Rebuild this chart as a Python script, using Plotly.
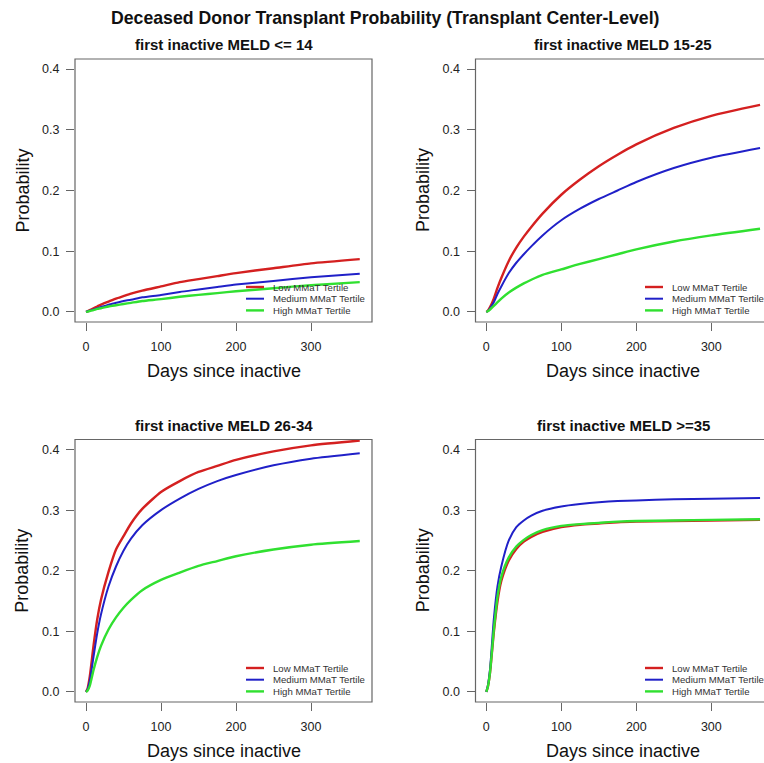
import plotly.graph_objects as go

W, H = 764, 763

# ---------------- data ----------------
days = [0, 2, 5, 10, 15, 20, 30, 40, 50, 60, 75, 100, 125, 150, 175, 200, 250, 300, 365]

series_names = ["Low MMaT Tertile", "Medium MMaT Tertile", "High MMaT Tertile"]
panel_titles = ["first inactive MELD <= 14", "first inactive MELD 15-25",
                "first inactive MELD 26-34", "first inactive MELD >=35"]

# MELD <= 14
p1_low = [0, 0.001, 0.003, 0.006, 0.009, 0.012, 0.017, 0.022, 0.026, 0.030, 0.035, 0.042, 0.049, 0.054, 0.059, 0.064, 0.072, 0.080, 0.087]
p1_med = [0, 0.001, 0.002, 0.004, 0.006, 0.008, 0.012, 0.015, 0.018, 0.020, 0.024, 0.028, 0.033, 0.037, 0.041, 0.045, 0.051, 0.057, 0.063]
p1_high = [0, 0.0005, 0.0015, 0.003, 0.005, 0.006, 0.009, 0.011, 0.013, 0.015, 0.018, 0.021, 0.025, 0.028, 0.031, 0.034, 0.039, 0.044, 0.049]
# MELD 15-25
p2_low = [0, 0.002, 0.008, 0.022, 0.040, 0.056, 0.084, 0.106, 0.124, 0.140, 0.162, 0.193, 0.218, 0.240, 0.259, 0.276, 0.303, 0.323, 0.341]
p2_med = [0, 0.001, 0.006, 0.016, 0.030, 0.042, 0.064, 0.081, 0.095, 0.108, 0.126, 0.151, 0.170, 0.186, 0.200, 0.214, 0.237, 0.254, 0.270]
p2_high = [0, 0.001, 0.004, 0.010, 0.016, 0.022, 0.032, 0.040, 0.047, 0.053, 0.061, 0.070, 0.079, 0.087, 0.095, 0.103, 0.116, 0.126, 0.137]
# MELD 26-34
p3_low = [0, 0.005, 0.025, 0.076, 0.120, 0.152, 0.198, 0.235, 0.257, 0.278, 0.302, 0.330, 0.348, 0.363, 0.373, 0.383, 0.397, 0.407, 0.415]
p3_med = [0, 0.004, 0.018, 0.058, 0.097, 0.128, 0.174, 0.207, 0.233, 0.253, 0.275, 0.300, 0.319, 0.335, 0.348, 0.358, 0.374, 0.385, 0.394]
p3_high = [0, 0.002, 0.010, 0.036, 0.058, 0.076, 0.103, 0.123, 0.139, 0.152, 0.168, 0.185, 0.197, 0.208, 0.216, 0.224, 0.235, 0.243, 0.249]
# MELD >= 35
p4_low = [0, 0.008, 0.032, 0.098, 0.150, 0.183, 0.217, 0.236, 0.248, 0.256, 0.264, 0.272, 0.276, 0.278, 0.280, 0.281, 0.282, 0.283, 0.284]
p4_med = [0, 0.010, 0.038, 0.120, 0.175, 0.207, 0.250, 0.272, 0.283, 0.291, 0.299, 0.306, 0.310, 0.313, 0.315, 0.316, 0.318, 0.319, 0.320]
p4_high = [0, 0.008, 0.033, 0.102, 0.158, 0.190, 0.222, 0.240, 0.251, 0.259, 0.267, 0.274, 0.277, 0.279, 0.281, 0.282, 0.283, 0.284, 0.285]

panels = [
    [p1_low, p1_med, p1_high],
    [p2_low, p2_med, p2_high],
    [p3_low, p3_med, p3_high],
    [p4_low, p4_med, p4_high],
]

x_ticks = [0, 100, 200, 300]
y_ticks = [0.0, 0.1, 0.2, 0.3, 0.4]
y_tick_labels = ["0.0", "0.1", "0.2", "0.3", "0.4"]

# ---------------- styling ----------------
colors = ["#d42020", "#2020c8", "#30e030"]
widths = [2.4, 2.0, 2.4]
FONT = "Liberation Sans, Arial, sans-serif"
AXC = "#666666"
TXT = "#222222"

def px(x):
    return x / W

def py(y):
    return 1 - y / H

# plot-area pixel boxes: (left, right, top, bottom)
boxes = [
    (75, 372, 59, 322),
    (475.5, 771, 59, 322),
    (75, 372, 439.5, 702),
    (475.5, 771, 439.5, 702),
]
x0_pix = [86, 486.3, 86, 486.3]
ppd = 0.75

fig = go.Figure()

for i in range(4):
    l, r, t, b = boxes[i]
    rr = min(r, W)
    ax = "" if i == 0 else str(i + 1)
    xr = [(l - x0_pix[i]) / ppd, (rr - x0_pix[i]) / ppd]
    for s in range(3):
        fig.add_trace(go.Scatter(
            x=days, y=panels[i][s], mode="lines", name=series_names[s],
            line=dict(color=colors[s], width=widths[s], shape="spline", smoothing=0.6),
            xaxis="x" + ax, yaxis="y" + ax, showlegend=False,
        ))
    fig.layout["xaxis" + ax] = dict(
        domain=[px(l), px(rr)], range=xr, anchor="y" + ax,
        tickvals=x_ticks, ticks="outside", ticklen=8, tickcolor=AXC, tickwidth=1,
        ticklabelstandoff=5,
        showgrid=False, zeroline=False, showline=False,
        tickfont=dict(family=FONT, size=12.5, color=TXT),
    )
    fig.layout["yaxis" + ax] = dict(
        domain=[py(b), py(t)], range=[-0.0166, 0.4166], anchor="x" + ax,
        tickvals=y_ticks, ticktext=y_tick_labels, ticks="outside", ticklen=8,
        tickcolor=AXC, tickwidth=1, ticklabelstandoff=4,
        showgrid=False, zeroline=False, showline=False,
        tickfont=dict(family=FONT, size=12.5, color=TXT),
    )
    fig.add_shape(type="rect", xref="paper", yref="paper",
                  x0=px(l), x1=px(r), y0=py(b), y1=py(t),
                  line=dict(color=AXC, width=1.2), fillcolor="rgba(0,0,0,0)")
    fig.add_annotation(text="<b>" + panel_titles[i] + "</b>", xref="paper", yref="paper",
                       x=px((l + r) / 2), y=py(t - 14), showarrow=False,
                       xanchor="center", yanchor="middle",
                       font=dict(family=FONT, size=15, color="#111111"))
    fig.add_annotation(text="Days since inactive", xref="paper", yref="paper",
                       x=px((l + r) / 2), y=py(b + 49), showarrow=False,
                       xanchor="center", yanchor="middle",
                       font=dict(family=FONT, size=18, color="#111111"))
    fig.add_annotation(text="Probability", xref="paper", yref="paper",
                       x=px(l - 53), y=py((t + b) / 2), showarrow=False, textangle=-90,
                       xanchor="center", yanchor="middle",
                       font=dict(family=FONT, size=18, color="#111111"))
    lx0 = 246 if i % 2 == 0 else 645
    ly0 = 287 if i < 2 else 668
    for s in range(3):
        yy = ly0 + s * 11.7
        fig.add_shape(type="line", xref="paper", yref="paper",
                      x0=px(lx0), x1=px(lx0 + 18), y0=py(yy), y1=py(yy),
                      line=dict(color=colors[s], width=widths[s]))
        fig.add_annotation(text=series_names[s], xref="paper", yref="paper",
                           x=px(lx0 + 25), y=py(yy), showarrow=False,
                           xanchor="left", yanchor="middle",
                           font=dict(family=FONT, size=9.6, color="#333333"))

fig.add_annotation(text="<b>Deceased Donor Transplant Probability (Transplant Center-Level)</b>",
                   xref="paper", yref="paper", x=px(385), y=py(18), showarrow=False,
                   xanchor="center", yanchor="middle",
                   font=dict(family=FONT, size=17.7, color="#111111"))

fig.update_layout(
    width=W, height=H, margin=dict(l=0, r=0, t=0, b=0),
    paper_bgcolor="white", plot_bgcolor="white", showlegend=False,
)

fig.write_html("out.html", config={"displayModeBar": False},
               post_script="document.body.style.margin='0px';document.body.style.overflow='hidden';")
